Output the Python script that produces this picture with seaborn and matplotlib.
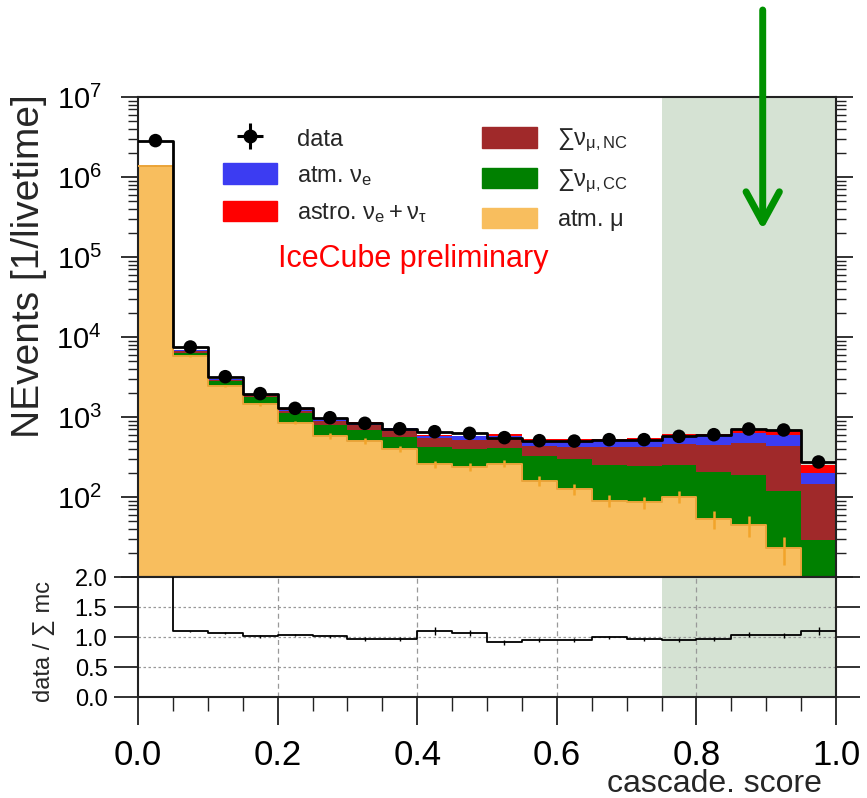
import numpy as np
import pandas as pd
import matplotlib
matplotlib.use("Agg")
import matplotlib.pyplot as plt
import seaborn as sns
from matplotlib.lines import Line2D
from matplotlib.patches import Patch
from matplotlib.ticker import (LogLocator, LogFormatterSciNotation, NullFormatter,
                               MultipleLocator, FormatStrFormatter, FixedLocator,
                               FuncFormatter)

# ---- binning ---------------------------------------------------------------
bin_edges = [0.0, 0.05, 0.10, 0.15, 0.20, 0.25, 0.30, 0.35, 0.40, 0.45, 0.50,
             0.55, 0.60, 0.65, 0.70, 0.75, 0.80, 0.85, 0.90, 0.95, 1.0]
bin_centers = [0.025, 0.075, 0.125, 0.175, 0.225, 0.275, 0.325, 0.375, 0.425, 0.475,
               0.525, 0.575, 0.625, 0.675, 0.725, 0.775, 0.825, 0.875, 0.925, 0.975]

# ---- event rates per bin [1/livetime] ---------------------------------------
data = [2.85e6, 7500, 3190, 1960, 1283, 980, 834, 714, 655, 625,
        552, 506, 500, 521, 521, 573, 601, 708, 688, 274]
atm_mu = [1.38e6, 5800, 2420, 1450, 850, 580, 500, 398, 258, 237,
          261, 160, 126, 90, 86, 101, 53, 45, 23, 0]
atm_mu_err = [14000, 120, 70, 60, 42, 46, 40, 36, 26, 28,
              26, 21, 19, 16, 15, 17, 13, 13, 9, 0]
numu_cc = [3000, 600, 370, 310, 260, 215, 188, 160, 164, 157,
           153, 165, 170, 163, 160, 150, 154, 143, 97, 29]
numu_nc = [2000, 330, 150, 130, 90, 105, 106, 118, 129, 122,
           117, 113, 130, 173, 180, 209, 240, 290, 318, 115]
atm_nue = [1500, 110, 40, 40, 35, 50, 52, 48, 34, 55,
           54, 63, 65, 72, 80, 97, 138, 159, 158, 57]
astro_nue_nutau = [50, 30, 10, 10, 10, 14, 14, 12, 10, 13,
                   22, 29, 33, 26, 37, 49, 35, 43, 72, 48]
ratio_err = [0.0, 0.015, 0.02, 0.02, 0.02, 0.025, 0.03, 0.035, 0.06, 0.05,
             0.04, 0.035, 0.03, 0.03, 0.03, 0.03, 0.03, 0.035, 0.04, 0.07]

signal_region = (0.75, 1.0)
cut_value = 0.895

# stacking order: first entry ends up on top of the stack
components = ["astro", "atm_nue", "numu_nc", "numu_cc", "atm_mu"]
rates = {"astro": astro_nue_nutau, "atm_nue": atm_nue, "numu_nc": numu_nc,
         "numu_cc": numu_cc, "atm_mu": atm_mu}
palette = {"astro": "#ff0000", "atm_nue": "#3c3cf2", "numu_nc": "#a0292a",
           "numu_cc": "#008000", "atm_mu": "#f8be5e"}
labels = {"atm_nue": r"atm. $\mathrm{\nu_e}$",
          "astro": r"astro. $\mathrm{\nu_e + \nu_\tau}$",
          "numu_nc": "\u2211" + r"$\mathrm{\nu_{\mu,NC}}$",
          "numu_cc": "\u2211" + r"$\mathrm{\nu_{\mu,CC}}$",
          "atm_mu": r"atm. $\mathrm{\mu}$"}

df = pd.DataFrame({
    "score": np.tile(bin_centers, len(components)),
    "rate": np.concatenate([rates[c] for c in components]),
    "component": np.repeat(components, len(bin_centers)),
})
mc_total = np.sum([np.asarray(rates[c], float) for c in components], axis=0)
ratio = np.asarray(data, float) / mc_total

# ---- style -----------------------------------------------------------------
sns.set_style("ticks")
plt.rcParams.update({
    "font.family": ["Liberation Sans", "DejaVu Sans"],
    "mathtext.fontset": "custom",
    "mathtext.rm": "Liberation Sans",
    "mathtext.it": "Liberation Sans:italic",
    "mathtext.bf": "Liberation Sans:bold",
    "axes.linewidth": 1.5,
    "axes.edgecolor": "#222222",
    "xtick.major.width": 1.3, "ytick.major.width": 1.3,
    "xtick.minor.width": 1.0, "ytick.minor.width": 1.0,
    "xtick.color": "#222222", "ytick.color": "#222222",
    "xtick.labelcolor": "black", "ytick.labelcolor": "black",
})

W, H = 867, 798
fig = plt.figure(figsize=(W / 100, H / 100), dpi=100)
ax = fig.add_axes([138 / W, 1 - 577 / H, 698 / W, 480 / H])
rax = fig.add_axes([138 / W, 1 - 697 / H, 698 / W, 120 / H], sharex=ax)

shade = "#d5e2d3"
for a in (ax, rax):
    a.axvspan(*signal_region, color=shade, lw=0, zorder=0)

# ---- upper panel: stacked MC, data -----------------------------------------
ax.set_yscale("log")
sns.histplot(data=df, x="score", weights="rate", hue="component", hue_order=components,
             palette=palette, bins=bin_edges, multiple="stack", element="step",
             fill=True, alpha=1, linewidth=0, legend=False, ax=ax, zorder=2)
sns.histplot(x=bin_centers, weights=atm_mu, bins=bin_edges, element="step", fill=False,
             color="#eaa43a", linewidth=1.4, ax=ax, zorder=3)
ax.errorbar(bin_centers[:-1], atm_mu[:-1], yerr=atm_mu_err[:-1], fmt="none",
            ecolor="#f2a42a", elinewidth=1.8, capsize=0, zorder=3)
sns.histplot(x=bin_centers, weights=data, bins=bin_edges, element="step", fill=False,
             color="black", linewidth=2.0, ax=ax, zorder=4)
sns.scatterplot(x=bin_centers, y=data, color="black", s=95, edgecolor="none",
                legend=False, ax=ax, zorder=5)

ax.set_xlim(0, 1)
ax.set_ylim(10, 1e7)
ax.set_xlabel("")
ax.set_ylabel("")
sci = LogFormatterSciNotation()
ax.yaxis.set_major_locator(LogLocator(base=10, numticks=10))
ax.yaxis.set_minor_locator(LogLocator(base=10, subs=np.arange(2, 10), numticks=100))
ax.yaxis.set_major_formatter(FuncFormatter(lambda v, pos: "" if v < 50 else sci(v, pos)))
ax.yaxis.set_minor_formatter(NullFormatter())
ax.tick_params(axis="y", which="both", direction="out", left=True, right=True, labelsize=21, pad=14)
ax.tick_params(axis="y", which="major", length=12)
ax.tick_params(axis="y", which="minor", length=7)
ax.tick_params(axis="x", which="both", bottom=False, top=False, labelbottom=False)

# cut arrow
ax.annotate("", xy=(cut_value, 2.2e5), xycoords="data",
            xytext=(cut_value, 1 - 10 / H), textcoords=("data", "figure fraction"),
            arrowprops=dict(arrowstyle="->,head_length=1.1,head_width=0.6", color="#009100",
                            lw=5, capstyle="round", joinstyle="round", shrinkA=0, shrinkB=0,
                            mutation_scale=20),
            annotation_clip=False, zorder=6)

# legend
data_handle = (Line2D([], [], marker="o", ms=9, color="black", ls="none"),
               Line2D([], [], marker="+", ms=19, mew=2.2, color="black", ls="none"))
order = ["atm_nue", "astro", "numu_nc", "numu_cc", "atm_mu"]
handles = [data_handle] + [Patch(facecolor=palette[c], edgecolor=palette[c]) for c in order]
leg_labels = ["data"] + [labels[c] for c in order]
ax.legend(handles, leg_labels, ncol=2, loc="upper left",
          bbox_to_anchor=(223 / W, 1 - 127 / H), bbox_transform=fig.transFigure,
          frameon=False, fontsize=17, handlelength=2.3, handleheight=0.95,
          handletextpad=0.85, columnspacing=2.35, labelspacing=0.55,
          borderpad=0, borderaxespad=0)

fig.text(278 / W, 1 - 259 / H, "IceCube preliminary", color="red", fontsize=22,
         ha="left", va="center")

# ---- lower panel: data / MC ratio --------------------------------------------
sns.histplot(x=bin_centers, weights=ratio, bins=bin_edges, element="step", fill=False,
             color="black", linewidth=1.3, ax=rax, zorder=4)
rax.errorbar(bin_centers[1:], ratio[1:], yerr=ratio_err[1:], fmt="none", ecolor="black",
             elinewidth=1.0, capsize=0, zorder=4)
for xv in (0.2, 0.4, 0.6, 0.8):
    rax.axvline(xv, color="#999999", lw=0.9, ls=(0, (4, 3)), zorder=1)
for yv in (0.5, 1.0, 1.5):
    rax.axhline(yv, color="#999999", lw=0.9, ls=(0, (2, 2)), zorder=1)

rax.set_xlim(0, 1)
rax.set_ylim(0, 2)
rax.set_xlabel("")
rax.set_ylabel("")
rax.yaxis.set_major_locator(FixedLocator([0.0, 0.5, 1.0, 1.5, 2.0]))
rax.yaxis.set_major_formatter(FormatStrFormatter("%.1f"))
rax.xaxis.set_major_locator(MultipleLocator(0.2))
rax.xaxis.set_minor_locator(MultipleLocator(0.05))
rax.xaxis.set_major_formatter(FormatStrFormatter("%.1f"))
rax.tick_params(axis="y", which="major", direction="out", left=True, right=True,
                length=17, labelsize=17, pad=5)
rax.tick_params(axis="x", which="major", direction="out", length=20, labelsize=25, pad=10)
rax.tick_params(axis="x", which="minor", direction="out", length=10)

fig.text(29 / W, 1 - 266 / H, "NEvents [1/livetime]", rotation=90, fontsize=28,
         ha="center", va="center")
fig.text(44 / W, 1 - 641 / H, "data / \u2211 mc", rotation=90, fontsize=17,
         ha="center", va="center")
fig.text(822 / W, 1 - 784 / H, "cascade. score", fontsize=23, ha="right", va="center")

fig.savefig("out.png", dpi=100)
